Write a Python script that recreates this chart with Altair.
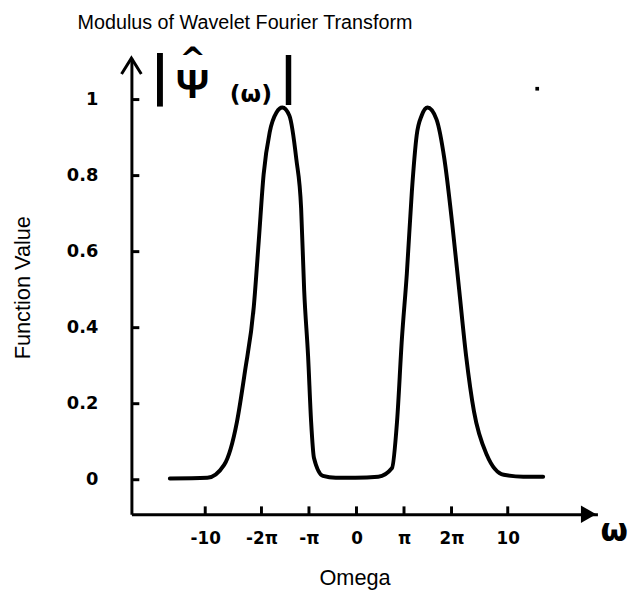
import altair as alt
import numpy as np
import pandas as pd

# curve (omega, |psi_hat(omega)|)
omega = [-12.34, -9.86, -8.75, -7.90, -7.38, -6.79, -6.46, -6.14, -5.74, -5.29,
         -4.90, -4.44, -3.98, -3.66, -3.46, -3.20, -3.00, -2.81, -2.22, -1.37,
         -0.07, 1.44, 2.35, 2.68, 3.00, 3.33, 3.66, 3.98, 4.31, 4.70,
         5.29, 5.81, 6.33, 6.79, 7.25, 7.77, 8.62, 9.73, 11.03, 12.34]
value = [0.003, 0.005, 0.039, 0.153, 0.283, 0.455, 0.629, 0.803, 0.914, 0.966,
         0.979, 0.958, 0.844, 0.714, 0.499, 0.325, 0.153, 0.057, 0.010, 0.005,
         0.005, 0.008, 0.031, 0.153, 0.369, 0.543, 0.758, 0.906, 0.958, 0.979,
         0.948, 0.844, 0.673, 0.499, 0.325, 0.179, 0.065, 0.013, 0.008, 0.008]

x_tick_values = [-10, -2 * np.pi, -np.pi, 0, np.pi, 2 * np.pi, 10]
x_tick_labels = ["-10", "-2π", "-π", "0", "π", "2π", "10"]
y_tick_values = [0, 0.2, 0.4, 0.6, 0.8, 1]

title_text = "Modulus of Wavelet Fourier Transform"
x_title = "Omega"
y_title = "Function Value"

W, H = 472, 462
x_dom = [-14.88, 15.93]
y_dom = [-0.0909, 1.109]

df = pd.DataFrame({"omega": omega, "value": value})

label_expr = ""
for v, l in zip(x_tick_values, x_tick_labels):
    label_expr += f"abs(datum.value - ({v:.5f})) < 0.01 ? '{l}' : "
label_expr += "''"

xs = alt.Scale(domain=x_dom, nice=False, zero=False)
ys = alt.Scale(domain=y_dom, nice=False, zero=False)

base = alt.Chart(df)

curve = base.mark_line(color="black", strokeWidth=4, interpolate="monotone",
                       strokeCap="round", strokeJoin="round").encode(
    x=alt.X("omega:Q", scale=xs,
            axis=alt.Axis(values=x_tick_values, labelExpr=label_expr, ticks=False,
                          grid=False, domainColor="black", domainWidth=3,
                          labelFont="DejaVu Sans", labelFontWeight="bold",
                          labelFontSize=17, labelColor="black",
                          labelBaseline="middle", labelPadding=25,
                          title=x_title, titleFont="Liberation Sans",
                          titleFontWeight="normal", titleFontSize=22,
                          titleColor="black", titleX=226, titleY=64,
                          titleBaseline="middle", titleAlign="center")),
    y=alt.Y("value:Q", scale=ys,
            axis=alt.Axis(values=y_tick_values, format="~g", ticks=False,
                          grid=False, domainColor="black", domainWidth=3,
                          labelFont="DejaVu Sans", labelFontWeight="bold",
                          labelFontSize=18, labelColor="black",
                          labelPadding=34,
                          title=y_title, titleFont="Liberation Sans",
                          titleFontWeight="normal", titleFontSize=22,
                          titleColor="black", titleX=-110, titleY=232,
                          titleAngle=-90, titleBaseline="middle",
                          titleAlign="center")),
)

ytick_df = pd.DataFrame({"v": y_tick_values})
yticks = alt.Chart(ytick_df).mark_rule(color="black", strokeWidth=3).encode(
    y=alt.Y("v:Q", scale=ys), x=alt.value(0), x2=alt.value(8))

xtick_df = pd.DataFrame({"v": x_tick_values})
xticks = alt.Chart(xtick_df).mark_rule(color="black", strokeWidth=3).encode(
    x=alt.X("v:Q", scale=xs), y=alt.value(H), y2=alt.value(H - 8))

one = pd.DataFrame({"a": [0]})

y_arrow = alt.Chart(one).mark_point(
    shape="M-1,0.7L0,-0.9L1,0.7", filled=False, color="black", strokeWidth=3,
    opacity=1, size=400).encode(x=alt.value(0), y=alt.value(9))

x_arrow = alt.Chart(one).mark_point(
    shape="triangle-right", filled=True, color="black", opacity=1,
    size=320).encode(x=alt.value(W - 9), y=alt.value(H))


def txt(t, x, y, size, weight="bold", font="DejaVu Sans"):
    return alt.Chart(one).mark_text(
        text=t, font=font, fontSize=size, fontWeight=weight, color="black",
        align="center", baseline="middle").encode(x=alt.value(x), y=alt.value(y))


ann = [
    txt(title_text, 115, -36, 20, weight="normal", font="Liberation Sans"),
    txt("|", 29, 20, 54),
    txt("Ψ", 62, 27, 42, font="Liberation Sans"),
    txt("^", 62, 2, 32),
    txt("(ω)", 121, 37, 24),
    txt("|", 159, 20, 50),
    txt("ω", 489, 479, 32),
]

dot = alt.Chart(one).mark_square(color="black", size=14, opacity=1).encode(
    x=alt.value(411), y=alt.value(31))

chart = alt.layer(curve, yticks, xticks, y_arrow, x_arrow, dot, *ann).properties(
    width=W, height=H,
    autosize=alt.AutoSizeParams(type="none"),
    padding={"left": 125, "top": 47, "right": 35, "bottom": 80},
).configure(background="white").configure_view(stroke="transparent", strokeWidth=0)

chart.save("out.html", embed_options={"renderer": "svg", "actions": False})
